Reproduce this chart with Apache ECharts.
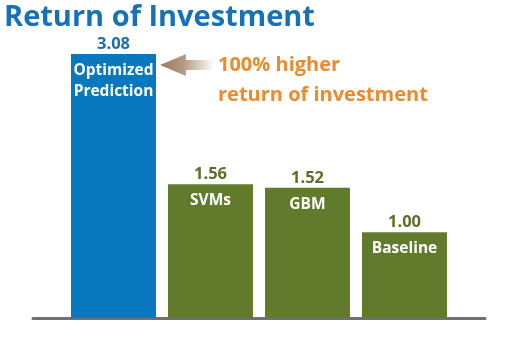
<!DOCTYPE html>
<html>
<head>
<meta charset="utf-8">
<script src="https://cdn.jsdelivr.net/npm/echarts@6/dist/echarts.min.js"></script>
<style>
  html, body { margin: 0; padding: 0; background: #fff; }
  #chart { width: 520px; height: 342px; }
</style>
</head>
<body>
<div id="chart"></div>
<script>
// Return multiples per model
const categories = ['Optimized\nPrediction', 'SVMs', 'GBM', 'Baseline'];
const roiValues = [3.08, 1.56, 1.52, 1.00];
const barColors = ['#0a78be', '#627a2b', '#627a2b', '#627a2b'];
const valueColors = ['#1d6cb2', '#5a6f27', '#5a6f27', '#5a6f27'];

const FONT = '"Open Sans", "Noto Sans", sans-serif';

const chart = echarts.init(document.getElementById('chart'), null, { renderer: 'canvas' });

chart.setOption({
  animation: false,
  title: {
    text: 'Return of Investment',
    left: -1,
    top: -2,
    textStyle: { fontFamily: FONT, fontWeight: 'bold', fontSize: 29, color: '#1672b8' }
  },
  grid: [
    { left: 65, width: 388, top: 18, bottom: 24 },
    { left: 33, right: 35, top: 18, bottom: 24 }
  ],
  xAxis: [
    {
      type: 'category', gridIndex: 0, data: categories,
      axisLine: { show: false }, axisTick: { show: false }, axisLabel: { show: false }
    },
    {
      // baseline rule running the full width under the bars
      type: 'value', gridIndex: 1, min: 0, max: 1,
      axisLine: { show: true, lineStyle: { color: '#707174', width: 3 } },
      axisTick: { show: false }, axisLabel: { show: false }, splitLine: { show: false }
    }
  ],
  yAxis: [
    { type: 'value', gridIndex: 0, min: 0, max: 3.5, show: false },
    { type: 'value', gridIndex: 1, min: 0, max: 1, show: false }
  ],
  series: [
    {
      type: 'bar', xAxisIndex: 0, yAxisIndex: 0,
      barCategoryGap: '12.4%',
      z: 3,
      data: roiValues.map((v, i) => ({
        value: v,
        itemStyle: { color: barColors[i] },
        label: { color: valueColors[i] }
      })),
      label: {
        show: true, position: 'top', distance: 1,
        fontFamily: FONT, fontWeight: 'bold', fontSize: 16.5,
        formatter: p => p.value.toFixed(2)
      }
    },
    {
      // category names written inside the top of each bar
      type: 'bar', xAxisIndex: 0, yAxisIndex: 0,
      barCategoryGap: '12.4%', barGap: '-100%',
      z: 4,
      itemStyle: { color: 'rgba(0,0,0,0)' },
      data: roiValues,
      label: {
        show: true, position: 'insideTop', distance: 6,
        fontFamily: FONT, fontWeight: 'bold', fontSize: 15.5, lineHeight: 21,
        color: '#ffffff',
        formatter: p => categories[p.dataIndex]
      }
    }
  ],
  graphic: [
    {
      type: 'polygon',
      shape: {
        points: [[160, 65], [186, 54], [186, 60], [214, 60], [214, 70], [186, 70], [186, 76]]
      },
      style: {
        fill: new echarts.graphic.LinearGradient(0, 0, 1, 0, [
          { offset: 0, color: '#9a7a5c' },
          { offset: 0.45, color: '#b59c86' },
          { offset: 1, color: 'rgba(255,255,255,1)' }
        ])
      }
    },
    {
      type: 'text', left: 218, top: 50,
      style: {
        text: '100% higher\nreturn of investment',
        fontFamily: FONT, fontWeight: 'bold', fontSize: 20, lineHeight: 30,
        fill: '#ec8a2c'
      }
    }
  ]
});
</script>
</body>
</html>
